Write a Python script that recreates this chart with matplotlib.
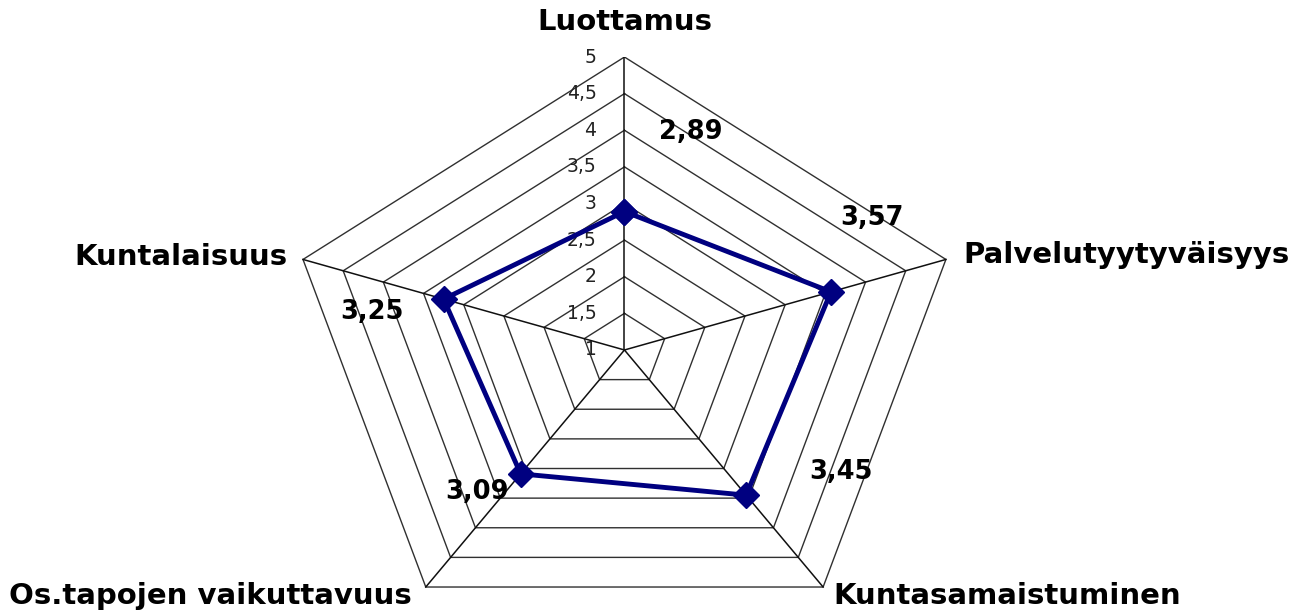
import numpy as np
import matplotlib
matplotlib.use('Agg')
import matplotlib.pyplot as plt

categories = ['Luottamus', 'Palvelutyytyväisyys', 'Kuntasamaistuminen',
              'Os.tapojen vaikuttavuus', 'Kuntalaisuus']
values = [2.89, 3.57, 3.45, 3.09, 3.25]
value_labels = ['2,89', '3,57', '3,45', '3,09', '3,25']
ring_values = [1, 1.5, 2, 2.5, 3, 3.5, 4, 4.5, 5]
ring_labels = ['1', '1,5', '2', '2,5', '3', '3,5', '4', '4,5', '5']
r_min, r_max = 1, 5

# label placement (pixel offsets from vertex / point), like the excel layout
cat_offsets = [(0, 35), (17, 4), (10, -9), (-14, -9), (-15, 2)]
cat_ha = ['center', 'left', 'left', 'right', 'right']
val_offsets = [(66, 80), (41, 74), (95, 23), (-44, -18), (-72, -13)]

n = len(categories)
theta = 2 * np.pi * np.arange(n) / n

def to_xy(v, th):
    r = (np.asarray(v, dtype=float) - r_min) / (r_max - r_min)
    return r * np.sin(th), r * np.cos(th)

fig = plt.figure(figsize=(12.95, 6.13), dpi=100)
ax = fig.add_axes([0.2212, 0.0228, 0.522, 0.8842])
ax.set_xlim(-1, 1)
ax.set_ylim(-0.85, 1.0)
ax.axis('off')

th_closed = np.append(theta, theta[0])

# pentagon rings
for rv in ring_values[1:]:
    x, y = to_xy(np.full(n + 1, rv), th_closed)
    ax.plot(x, y, color='#303030', lw=1.0, zorder=1)

# spokes
for th in theta:
    x, y = to_xy([r_min, r_max], np.array([th, th]))
    ax.plot(x, y, color='#101010', lw=1.1, zorder=1)

# ring labels along top spoke
for rv, lab in zip(ring_values, ring_labels):
    x, y = to_xy(rv, 0.0)
    ax.annotate(lab, (x, y), xytext=(-28, 0), textcoords='offset pixels',
                ha='right', va='center', fontsize=13.5, color='#222222')

# data series
vx, vy = to_xy(np.append(values, values[0]), th_closed)
ax.plot(vx, vy, color='#000080', lw=3.5, marker='D', markersize=13,
        markerfacecolor='#000080', markeredgecolor='#000080', zorder=3)

# value labels
for i in range(n):
    ax.annotate(value_labels[i], (vx[i], vy[i]), xytext=val_offsets[i],
                textcoords='offset pixels', ha='center', va='center',
                fontsize=18.5, fontweight='bold', color='black')

# category labels
for i in range(n):
    x, y = to_xy(r_max, theta[i])
    ax.annotate(categories[i], (x, y), xytext=cat_offsets[i],
                textcoords='offset pixels', ha=cat_ha[i], va='center',
                fontsize=21, fontweight='bold', color='black',
                annotation_clip=False)

fig.savefig('out.png', dpi=100)
